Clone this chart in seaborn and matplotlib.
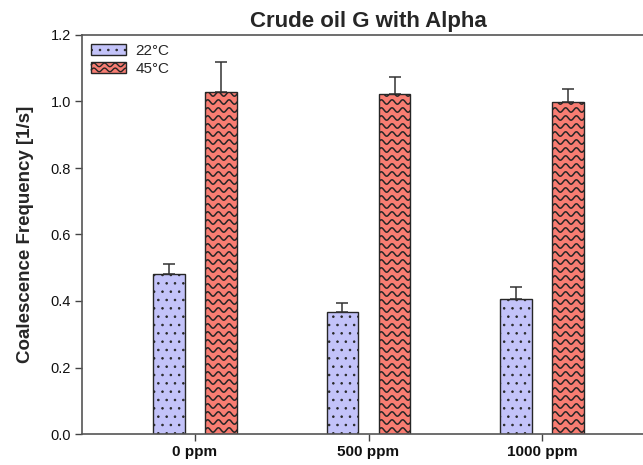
import numpy as np
import pandas as pd
import matplotlib
matplotlib.use("Agg")
import matplotlib.pyplot as plt
import seaborn as sns
from matplotlib.patches import Rectangle, Patch
from matplotlib.lines import Line2D
from matplotlib.legend_handler import HandlerBase

# ---- data -------------------------------------------------------------
concentrations = ["0 ppm", "500 ppm", "1000 ppm"]
temperatures = ["22°C", "45°C"]
freq_22 = [0.481, 0.367, 0.406]
freq_45 = [1.030, 1.022, 0.999]
err_22 = [0.031, 0.027, 0.037]
err_45 = [0.088, 0.052, 0.038]
y_ticks = [0.0, 0.2, 0.4, 0.6, 0.8, 1.0, 1.2]

df = pd.DataFrame({
    "Concentration": concentrations * 2,
    "Temperature": [temperatures[0]] * 3 + [temperatures[1]] * 3,
    "Frequency": freq_22 + freq_45,
})

BLUE = "#c3c3f9"
RED = "#f87d72"
EDGE = "#262626"

sns.set_theme(style="ticks")
plt.rcParams["font.family"] = ["Liberation Sans", "DejaVu Sans"]
plt.rcParams["hatch.linewidth"] = 0.6

fig = plt.figure(figsize=(6.43, 4.65), dpi=100)
ax = fig.add_axes([82 / 643, 31 / 465, 573 / 643, 399 / 465])

sns.barplot(data=df, x="Concentration", y="Frequency", hue="Temperature",
            order=concentrations, hue_order=temperatures,
            palette=[BLUE, RED], saturation=1, width=0.6, gap=0.39,
            edgecolor=EDGE, linewidth=1.0, errorbar=None, legend=False, ax=ax)

ax.set_xlim(-0.65, 2.65)
ax.set_ylim(0, 1.2)

blue_bars, red_bars = ax.containers[0], ax.containers[1]

# dotted fill for the 22 °C bars
for p in blue_bars:
    p.set_hatch("..")

# wavy fill for the 45 °C bars, clipped to each bar
fig.canvas.draw()
sx = ax.transData.transform((1, 0))[0] - ax.transData.transform((0, 0))[0]
sy = ax.transData.transform((0, 1))[1] - ax.transData.transform((0, 0))[1]
period = 10.7 / sx
row_gap = 8.0 / sy
amp = 2.2 / sy
for p in red_bars:
    x0, w, h = p.get_x(), p.get_width(), p.get_height()
    xs = np.linspace(x0 - period, x0 + w + period, 300)
    y = row_gap * 0.5
    while y < h + row_gap:
        ys = y + amp * np.sin(2 * np.pi * (xs - x0) / period)
        ln = ax.plot(xs, ys, color=EDGE, lw=1.1, zorder=p.get_zorder() + 0.1)[0]
        ln.set_clip_path(p)
        y += row_gap

# upper error bars
for bars, vals, errs in [(blue_bars, freq_22, err_22), (red_bars, freq_45, err_45)]:
    xc = [b.get_x() + b.get_width() / 2 for b in bars]
    ax.errorbar(xc, vals, yerr=[np.zeros(len(errs)), errs], fmt="none",
                ecolor="#333333", elinewidth=1.1, capsize=4.3, capthick=1.1,
                zorder=1)

# axes styling
ax.set_yticks(y_ticks)
ax.set_yticklabels([f"{v:.1f}" for v in y_ticks], fontsize=10.5)
ax.set_xticks(range(len(concentrations)))
ax.set_xticklabels(concentrations, fontsize=11, fontweight="bold")
ax.tick_params(axis="both", direction="out", length=5, width=1.0,
               color="#444444", labelcolor="#111111", pad=3)
for side in ["left", "bottom", "top", "right"]:
    ax.spines[side].set_visible(True)
    ax.spines[side].set_color("#555555")
    ax.spines[side].set_linewidth(1.2)

ax.set_xlabel("")
ax.set_ylabel("Coalescence Frequency [1/s]", fontsize=13.5, fontweight="bold",
              labelpad=12)
ax.set_title("Crude oil G with Alpha", fontsize=16, fontweight="bold", pad=6)


class WaveHandler(HandlerBase):
    def create_artists(self, legend, orig_handle, xdescent, ydescent,
                       width, height, fontsize, trans):
        rect = Rectangle((-xdescent, -ydescent), width, height,
                         facecolor=RED, edgecolor=EDGE, lw=1.0, transform=trans)
        arts = [rect]
        xs = np.linspace(-xdescent, -xdescent + width, 80)
        per = 7.7
        for yy in (height * 0.3, height * 0.75):
            ys = -ydescent + yy + 1.3 * np.sin(2 * np.pi * xs / per)
            arts.append(Line2D(xs, ys, color=EDGE, lw=1.0, transform=trans))
        return arts


h22 = Patch(facecolor=BLUE, edgecolor=EDGE, hatch="..", lw=1.0)
h45 = Patch(facecolor=RED, edgecolor=EDGE, lw=1.0)
ax.legend([h22, h45], temperatures, loc="upper left", frameon=False,
          fontsize=11, handlelength=2.3, handleheight=0.75, handletextpad=0.6,
          labelspacing=0.25, borderaxespad=0.2, borderpad=0.4,
          handler_map={h45: WaveHandler()})

fig.savefig("out.png", dpi=100)
